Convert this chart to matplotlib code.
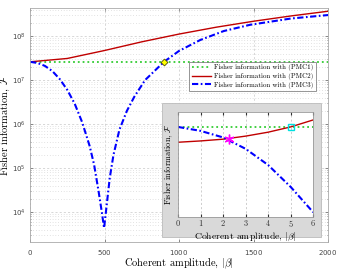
import matplotlib
matplotlib.use('Agg')
import matplotlib.pyplot as plt
from matplotlib.patches import Rectangle

plt.rcParams['mathtext.fontset'] = 'cm'
plt.rcParams['font.family'] = ['cmr10', 'DejaVu Serif']
plt.rcParams['axes.formatter.use_mathtext'] = True

# main panel data
beta_pmc1 = [0, 2000]
fisher_pmc1 = [2.6e7, 2.6e7]

beta_pmc2 = [0, 250, 500, 750, 1000, 1250, 1500, 1750, 2000]
fisher_pmc2 = [2.6e7, 3.1e7, 4.7e7, 7.4e7, 1.11e8, 1.59e8, 2.17e8, 2.86e8, 3.66e8]

beta_pmc3 = [0, 50, 100, 150, 200, 250, 300, 350, 400, 430, 460, 480, 497,
             515, 535, 560, 600, 650, 700, 772, 850, 899, 1000, 1141, 1300, 1476, 1750, 2000]
fisher_pmc3 = [2.6e7, 2.45e7, 2.1e7, 1.6e7, 1.05e7, 6.0e6, 2.9e6, 1.1e6, 3.2e5, 1.2e5, 3.0e4, 1.1e4, 4.4e3,
               1.5e4, 6.0e4, 2.0e5, 7.5e5, 2.0e6, 4.2e6, 1.0e7, 1.8e7, 2.6e7, 4.6e7, 8.1e7, 1.3e8, 1.8e8, 2.5e8, 3.0e8]

cross_beta = [899]
cross_fisher = [2.6e7]

# inset data (small amplitudes)
beta_small = [0, 1, 2, 3, 4, 5, 6]
small_pmc1 = [2.606e7] * 7
small_pmc2 = [2.571e7, 2.574e7, 2.578e7, 2.585e7, 2.594e7, 2.606e7, 2.622e7]
small_pmc3 = [2.606e7, 2.597e7, 2.582e7, 2.556e7, 2.519e7, 2.469e7, 2.411e7]
star_pt = (2.27, 2.578e7)
square_pt = (5.0, 2.606e7)

green = '#33cc33'
red = '#c00000'
blue = '#0000ff'
gridc = '#c8c8c8'
dashdot = (0, (3, 1.2, 0.8, 1.2))

fig = plt.figure(figsize=(3.43, 2.72), dpi=100)
ax = fig.add_axes([0.0875, 0.110, 0.869, 0.860])

ax.plot(beta_pmc1, fisher_pmc1, ':', color=green, lw=1.3, label='Fisher information with (PMC1)')
ax.plot(beta_pmc2, fisher_pmc2, '-', color=red, lw=1.0, label='Fisher information with (PMC2)')
ax.plot(beta_pmc3, fisher_pmc3, ls=dashdot, color=blue, lw=1.5, label='Fisher information with (PMC3)')
ax.plot(cross_beta, cross_fisher, 'D', color='#ffff00', mec='#555500', ms=3.5, mew=0.6)

ax.set_yscale('log')
ax.set_xlim(0, 2000)
ax.set_ylim(2.1e3, 4.3e8)
ax.set_xticks([0, 500, 1000, 1500, 2000])
ax.set_yticks([1e4, 1e5, 1e6, 1e7, 1e8])
ax.tick_params(which='both', direction='in', colors='#444444', labelsize=5, length=2,
               top=True, right=True, width=0.4)
ax.tick_params(which='minor', length=1)
ax.tick_params(axis='x', pad=4)
ax.tick_params(axis='y', pad=3)
for lab in ax.get_xticklabels() + ax.get_yticklabels():
    lab.set_fontfamily('DejaVu Sans')
ax.grid(True, which='major', ls=(0, (3, 3)), color=gridc, lw=0.5)
ax.grid(True, which='minor', axis='y', ls=(0, (1, 3)), color=gridc, lw=0.5)
for s in ax.spines.values():
    s.set_color('#aaaaaa')
    s.set_linewidth(0.6)
ax.set_xlabel(r'Coherent amplitude, $|\beta|$', fontsize=7.5, labelpad=0)
ax.set_ylabel(r'Fisher information, $\mathcal{F}$', fontsize=7.5, labelpad=0)

leg = ax.legend(loc='upper right', bbox_to_anchor=(0.97, 0.785), fontsize=5,
                handlelength=2.8, frameon=True, fancybox=False, borderpad=0.35,
                labelspacing=0.25, handletextpad=0.4)
leg.get_frame().set_edgecolor('#666666')
leg.get_frame().set_linewidth(0.6)

# gray backdrop for the inset
fig.patches.append(Rectangle((0.472, 0.129), 0.464, 0.493, transform=fig.transFigure,
                             facecolor='#d9d9d9', edgecolor='#bbbbbb', lw=0.6, zorder=3))

ins = fig.add_axes([0.519, 0.202, 0.394, 0.386], zorder=4)
ins.plot(beta_small, small_pmc1, ':', color=green, lw=1.3)
ins.plot(beta_small, small_pmc2, '-', color=red, lw=1.0)
ins.plot(beta_small, small_pmc3, ls=dashdot, color=blue, lw=1.5)
ins.plot(*star_pt, marker=(6, 2, 0), color='#ff00ff', ms=7, mew=1.0)
ins.plot(*square_pt, 's', mfc='none', mec='#00e0e0', ms=5, mew=1.0)
ins.set_xlim(0, 6)
ins.set_ylim(2.40e7, 2.64e7)
ins.set_xticks([0, 1, 2, 3, 4, 5, 6])
ins.set_yticks([])
ins.tick_params(direction='in', labelsize=6, length=2, pad=1, top=True, colors='#333333')
ins.grid(True, axis='x', ls=(0, (3, 3)), color='#bbbbbb', lw=0.5)
for s in ins.spines.values():
    s.set_color('#999999')
    s.set_linewidth(0.6)
ins.set_xlabel(r'Coherent amplitude, $|\beta|$', fontsize=7, labelpad=1)
ins.set_ylabel(r'Fisher information, $\mathcal{F}$', fontsize=6, labelpad=2)

fig.savefig('out.png', dpi=100)
